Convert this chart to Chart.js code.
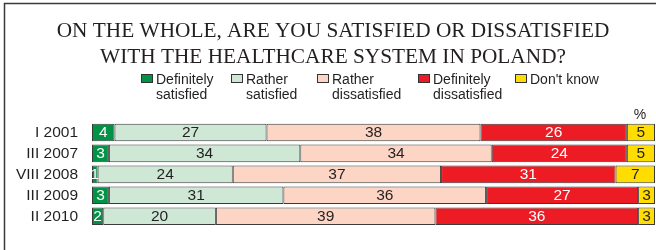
<!DOCTYPE html>
<html>
<head>
<meta charset="utf-8">
<script src="https://cdn.jsdelivr.net/npm/chart.js@4/dist/chart.umd.min.js"></script>
<style>
html,body{margin:0;padding:0;background:#fff;}
#wrap{position:relative;width:656px;height:250px;}
</style>
</head>
<body>
<div id="wrap"><canvas id="c" width="656" height="250"></canvas></div>
<script>
const categories = ['I 2001', 'III 2007', 'VIII 2008', 'III 2009', 'II 2010'];
const definitelySatisfied = [4, 3, 1, 3, 2];
const ratherSatisfied = [27, 34, 24, 31, 20];
const ratherDissatisfied = [38, 34, 37, 36, 39];
const definitelyDissatisfied = [26, 24, 31, 27, 36];
const dontKnow = [5, 5, 7, 3, 3];
const seriesNames = [['Definitely', 'satisfied'], ['Rather', 'satisfied'], ['Rather', 'dissatisfied'], ['Definitely', 'dissatisfied'], ["Don't know"]];
const titleLines = ['ON THE WHOLE, ARE YOU SATISFIED OR DISSATISFIED', 'WITH THE HEALTHCARE SYSTEM IN POLAND?'];

const colors = ['#009245', '#cfe8d6', '#fcd5c4', '#ed1c24', '#ffdd00'];
const textColors = ['#ffffff', '#231f20', '#231f20', '#ffffff', '#231f20'];
const seriesData = [definitelySatisfied, ratherSatisfied, ratherDissatisfied, definitelyDissatisfied, dontKnow];

const SANS = '"Liberation Sans", Arial, sans-serif';
const SERIF = '"Liberation Serif", "Times New Roman", serif';

const decorPlugin = {
  id: 'decor',
  beforeDraw(chart) {
    const ctx = chart.ctx;
    ctx.save();
    ctx.fillStyle = '#fff';
    ctx.fillRect(0, 0, chart.width, chart.height);
    ctx.strokeStyle = '#3a3a3a';
    ctx.lineWidth = 1.5;
    ctx.beginPath();
    ctx.moveTo(4.5, 250);
    ctx.lineTo(4.5, 3.5);
    ctx.lineTo(656, 3.5);
    ctx.stroke();
    ctx.restore();
  },
  afterDraw(chart) {
    const ctx = chart.ctx;
    ctx.save();
    // title
    ctx.fillStyle = '#231f20';
    ctx.font = '21.3px ' + SERIF;
    ctx.textAlign = 'center';
    ctx.textBaseline = 'alphabetic';
    ctx.fillText(titleLines[0], 333, 37);
    ctx.fillText(titleLines[1], 333, 63);
    // legend
    const legendX = [141, 231, 317, 418, 515];
    ctx.font = '14px ' + SANS;
    ctx.textAlign = 'left';
    chart.data.datasets.forEach((ds, i) => {
      const x = legendX[i];
      ctx.fillStyle = ds.backgroundColor;
      ctx.fillRect(x, 74, 12, 9);
      ctx.strokeStyle = '#333';
      ctx.lineWidth = 1;
      ctx.strokeRect(x + 0.5, 74.5, 11, 8);
      ctx.fillStyle = '#231f20';
      const lines = seriesNames[i];
      lines.forEach((t, k) => ctx.fillText(t, x + 15, 84 + k * 15));
    });
    // percent sign
    ctx.textAlign = 'center';
    ctx.textBaseline = 'middle';
    ctx.fillText('%', 640, 115);
    // value labels
    ctx.font = '15.5px ' + SANS;
    chart.data.datasets.forEach((ds, i) => {
      const meta = chart.getDatasetMeta(i);
      meta.data.forEach((el, j) => {
        const p = el.getCenterPoint();
        ctx.fillStyle = textColors[i];
        ctx.fillText(String(ds.data[j]), p.x, p.y + 0.5);
      });
    });
    ctx.restore();
  }
};

new Chart(document.getElementById('c'), {
  type: 'bar',
  data: {
    labels: categories,
    datasets: seriesData.map((d, i) => ({
      label: seriesNames[i].join(' '),
      data: d,
      backgroundColor: colors[i],
      borderColor: '#3a3a3a',
      borderWidth: 1,
      borderSkipped: false,
      barPercentage: 0.84,
      categoryPercentage: 1
    }))
  },
  options: {
    indexAxis: 'y',
    responsive: false,
    animation: false,
    layout: { padding: { top: 122, bottom: 9, left: 0, right: 1 } },
    plugins: { legend: { display: false }, title: { display: false }, tooltip: { enabled: false } },
    scales: {
      x: { stacked: true, min: 0, max: 100, display: false },
      y: {
        stacked: true,
        grid: { display: false, drawTicks: false },
        border: { display: false },
        ticks: { color: '#231f20', font: { family: SANS, size: 15.5 }, padding: 14 },
        afterFit(scale) { scale.width = 92; }
      }
    }
  },
  plugins: [decorPlugin]
});
</script>
</body>
</html>
